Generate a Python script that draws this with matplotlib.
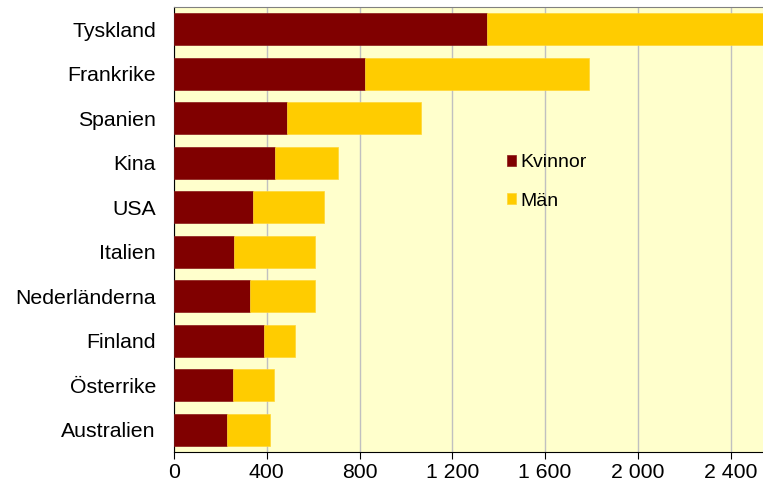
import matplotlib
matplotlib.use("Agg")
import matplotlib.pyplot as plt
from matplotlib.ticker import FuncFormatter

plt.rcParams['font.family'] = ['Liberation Sans', 'DejaVu Sans']

countries = ["Tyskland", "Frankrike", "Spanien", "Kina", "USA", "Italien",
             "Nederländerna", "Finland", "Österrike", "Australien"]
kvinnor = [1350, 823, 486, 436, 342, 259, 327, 386, 253, 227]
man = [1250, 966, 580, 270, 303, 350, 279, 136, 179, 185]
xticks = [0, 400, 800, 1200, 1600, 2000, 2400]

fig = plt.figure(figsize=(7.63, 4.86), dpi=100)
ax = fig.add_axes([174/763, 1 - 452/486, 589/763, 445/486])
ax.set_facecolor('#FFFFCC')

y = list(range(len(countries)))[::-1]
ax.barh(y, kvinnor, height=0.72, color='#800000', edgecolor='#8B1A1A', linewidth=0.5, label='Kvinnor', zorder=3)
ax.barh(y, man, left=kvinnor, height=0.72, color='#FFCC00', edgecolor='#FFD633', linewidth=0.5, label='Män', zorder=3)

ax.set_xlim(0, 2540)
ax.set_ylim(-0.5, len(countries) - 0.5)
ax.set_xticks(xticks)
ax.xaxis.set_major_formatter(FuncFormatter(lambda v, p: f"{int(v):,}".replace(",", " ")))
ax.set_yticks(y)
ax.set_yticklabels(countries)
ax.tick_params(axis='y', length=0, labelsize=15.3, pad=13)
ax.tick_params(axis='x', length=5, labelsize=15.3, direction='out', color='black', pad=3)
ax.grid(axis='x', color='#C0C0C0', linewidth=1, zorder=0)
ax.set_axisbelow(True)

ax.spines['right'].set_visible(False)
ax.spines['top'].set_color('#808080')
ax.spines['left'].set_color('black')
ax.spines['bottom'].set_color('black')

leg = ax.legend(loc='center left', bbox_to_anchor=(0.535, 0.607), frameon=False,
                fontsize=14, handlelength=0.5, handleheight=0.5, handletextpad=0.2,
                labelspacing=1.1)

fig.savefig('out.png', dpi=100)
